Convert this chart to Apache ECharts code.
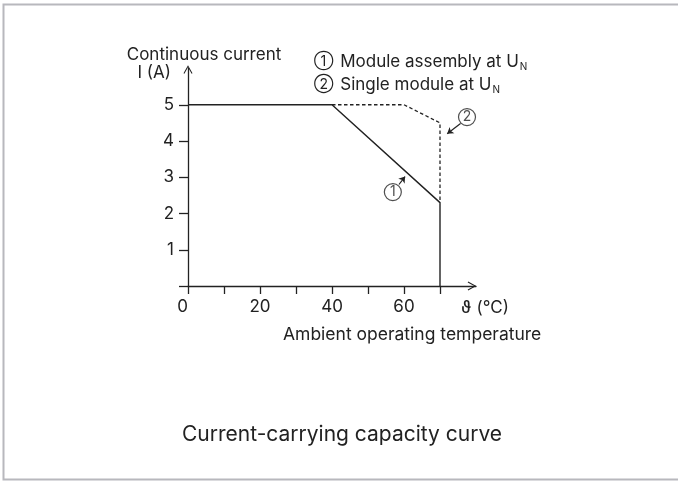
<!DOCTYPE html>
<html>
<head>
<meta charset="utf-8">
<script src="https://cdn.jsdelivr.net/npm/echarts@6/dist/echarts.min.js"></script>
<style>
html,body{margin:0;padding:0;background:#fff;}
#c{width:678px;height:481px;}
</style>
</head>
<body>
<div id="c"></div>
<script>
// Data (temperature °C, current A)
var curve1 = [[0, 5], [40, 5], [70, 2.3], [70, 0]];      // Module assembly at UN
var curve2 = [[40, 5], [60, 5], [70, 4.5], [70, 2.3]];   // Single module at UN
var xTicks = [0, 10, 20, 30, 40, 50, 60, 70];
var xLabels = [0, 20, 40, 60];
var yTicks = [0, 1, 2, 3, 4, 5];
var yLabels = [1, 2, 3, 4, 5];
// Annotation markers: [x, y, text]
var markers = [[56.9, 2.59, '1'], [77.5, 4.66, '2']];
// Annotation arrows: from -> to
var arrows = [
  [[58.6, 2.8], [60.3, 3.02]],
  [[75.7, 4.48], [72.0, 4.2]]
];

var FONT = 'Inter, "Noto Sans", sans-serif';
var INK = '#222';
var chevron = 'path://M0,0 L5,9 L4,9.6 L0,2.4 L-4,9.6 L-5,9 Z';
var legendRich = {
  c: {fontSize: 14, fontFamily: FONT, fill: INK, padding: [0, 2, 0, 0]},
  s: {fontSize: 10, fontFamily: FONT, fill: INK, padding: [9, 0, 0, 1]}
};

var chart = echarts.init(document.getElementById('c'), null, {renderer: 'canvas'});
chart.setOption({
  backgroundColor: '#fff',
  animation: false,
  grid: {left: 188, top: 68.5, width: 288, height: 217.5},
  xAxis: {
    type: 'value', min: 0, max: 80, interval: 10,
    splitLine: {show: false},
    axisLine: {show: true, lineStyle: {color: INK, width: 1.3},
      symbol: ['none', chevron], symbolSize: [9, 9], symbolOffset: [0, -4]},
    axisTick: {show: true, length: 8, lineStyle: {color: INK, width: 1.3}, customValues: xTicks},
    axisLabel: {color: INK, fontFamily: FONT, fontSize: 17, margin: 12, customValues: xLabels,
      formatter: function (v) { return v === 0 ? '{z|0}' : String(v); },
      rich: {z: {fontFamily: FONT, fontSize: 17, color: INK, padding: [0, 11, 0, 0]}}}
  },
  yAxis: {
    type: 'value', min: 0, max: 6, interval: 1,
    splitLine: {show: false},
    axisLine: {show: true, lineStyle: {color: INK, width: 1.3},
      symbol: ['none', chevron], symbolSize: [9, 9], symbolOffset: [0, -1]},
    axisTick: {show: true, length: 9, lineStyle: {color: INK, width: 1.3}, customValues: yTicks},
    axisLabel: {color: INK, fontFamily: FONT, fontSize: 17, margin: 14, customValues: yLabels}
  },
  series: [
    {type: 'line', data: curve1, symbol: 'none', lineStyle: {color: INK, width: 1.4}},
    {type: 'line', data: curve2, symbol: 'none', lineStyle: {color: INK, width: 1.3, type: [3.5, 2.5]}},
    {type: 'scatter', data: markers, symbol: 'circle', symbolSize: 17,
      itemStyle: {color: '#fff', borderColor: INK, borderWidth: 1.2},
      label: {show: true, position: 'inside', formatter: function (p) { return p.data[2]; },
        color: INK, fontFamily: FONT, fontSize: 14}},
    {type: 'lines', coordinateSystem: 'cartesian2d', polyline: false,
      data: arrows.map(function (a) { return {coords: a}; }),
      symbol: ['none', 'arrow'], symbolSize: 6,
      lineStyle: {color: INK, width: 1.2, opacity: 1}}
  ],
  graphic: [
    {type: 'rect', shape: {x: 3.5, y: 4.5, width: 700, height: 475}, style: {fill: 'none', stroke: '#b8b8bd', lineWidth: 2}, silent: true},
    {type: 'text', x: 204, y: 55, style: {text: 'Continuous current', font: '17px ' + FONT, fill: INK, textAlign: 'center', textVerticalAlign: 'middle'}},
    {type: 'text', x: 171, y: 73, style: {text: 'I (A)', font: '17px ' + FONT, fill: INK, textAlign: 'right', textVerticalAlign: 'middle'}},
    {type: 'text', x: 314, y: 62, style: {text: '{c|\u2460} Module assembly at U{s|N}', font: '17px ' + FONT, fill: INK, textVerticalAlign: 'middle', rich: legendRich}},
    {type: 'text', x: 314, y: 85, style: {text: '{c|\u2461} Single module at U{s|N}', font: '17px ' + FONT, fill: INK, textVerticalAlign: 'middle', rich: legendRich}},
    {type: 'text', x: 461, y: 308, style: {text: '\u03D1 (\u00B0C)', font: '17px ' + FONT, fill: INK, textVerticalAlign: 'middle'}},
    {type: 'text', x: 283, y: 335, style: {text: 'Ambient operating temperature', font: '17.5px ' + FONT, fill: INK, textVerticalAlign: 'middle'}},
    {type: 'text', x: 342, y: 435, style: {text: 'Current-carrying capacity curve', font: '21px ' + FONT, fill: INK, textAlign: 'center', textVerticalAlign: 'middle'}}
  ]
});
</script>
</body>
</html>
